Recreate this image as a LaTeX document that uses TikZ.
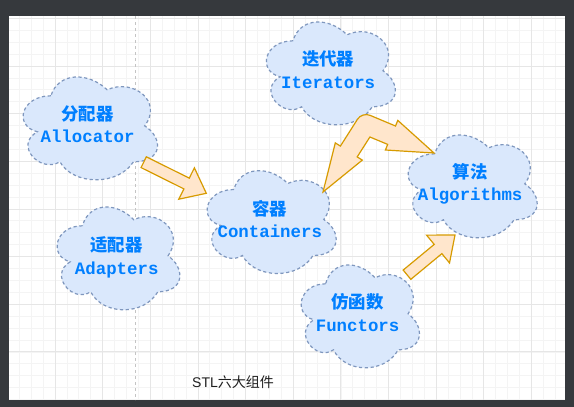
\documentclass[tikz,border=0pt]{standalone}
\usepackage{fontspec}
\setmainfont{Liberation Sans}
\newfontfamily\monob{Liberation Mono}
\newfontfamily\cjk{Noto Sans CJK SC}
\usetikzlibrary{calc}
\definecolor{framecol}{HTML}{36393D}
\definecolor{gridmaj}{HTML}{E6E6E6}
\definecolor{gridmin}{HTML}{F4F4F4}
\definecolor{pagebreak}{HTML}{C4C4C4}
\definecolor{cloudfill}{HTML}{DAE8FC}
\definecolor{cloudline}{HTML}{7F97BE}
\definecolor{txtblue}{HTML}{007FFF}
\definecolor{arrfill}{HTML}{FFE6CC}
\definecolor{arrline}{HTML}{D79B00}
\definecolor{captcol}{HTML}{1E1E1E}
\newcommand\tstrut{\rule[-4.4pt]{0pt}{18.3pt}}
\newcommand\cloudshape[4]{%
  \begin{scope}[shift={(#1,#2)}, xscale=#3, yscale=#4]
    \filldraw[cloudsty] (0.25,0.25) .. controls (0.05,0.25) and (0,0.5) .. (0.16,0.55)
      .. controls (0,0.66) and (0.18,0.9) .. (0.31,0.8)
      .. controls (0.4,1) and (0.7,1) .. (0.8,0.8)
      .. controls (1,0.8) and (1,0.6) .. (0.875,0.5)
      .. controls (1,0.3) and (0.8,0.1) .. (0.625,0.2)
      .. controls (0.5,0.05) and (0.3,0.05) .. (0.25,0.25) -- cycle;
  \end{scope}}
\newcommand\blockarrow[5]{%
  \coordinate (bT) at (#2);
  \coordinate (bB) at ($(#2)!#5!(#1)$);
  \filldraw[arrsty] ($(#1)!#3!90:(#2)$) -- ($(bB)!#3!90:(bT)$) -- ($(bB)!#4!90:(bT)$)
    -- (bT) -- ($(bB)!#4!-90:(bT)$) -- ($(bB)!#3!-90:(bT)$) -- ($(#1)!#3!-90:(#2)$) -- cycle;
}
\tikzset{
  cloudsty/.style={fill=cloudfill, draw=cloudline, line width=1.2pt, dash pattern=on 3.2pt off 2.6pt},
  arrsty/.style={fill=arrfill, draw=arrline, line width=1.2pt, line join=miter},
  cloudtxt/.style={text=txtblue, align=center, inner sep=0pt,
    font=\fontsize{17.4}{22.5}\selectfont\bfseries},
  capt/.style={text=captcol, inner sep=0pt, font=\fontsize{14}{16}\selectfont}
}
\newcommand\ctext[2]{{\cjk\bfseries #1\tstrut}\\{\monob\bfseries #2\tstrut}}
\begin{document}
\begin{tikzpicture}[x=1pt, y=-1pt]
  \useasboundingbox (0,0) rectangle (574,407);
  \fill[framecol] (0,0) rectangle (574,407);
  \fill[white] (9,16) rectangle (565,400);
  \begin{scope}
    \clip (9,16) rectangle (565,400);
    \foreach \i in {0,...,47} {
      \draw[gridmin, line width=0.8pt] ({7.35+11.9125*\i},16) -- ({7.35+11.9125*\i},400);
    }
    \foreach \i in {0,...,32} {
      \draw[gridmin, line width=0.8pt] (9,{18.35+11.9125*\i}) -- (565,{18.35+11.9125*\i});
    }
    \foreach \k in {0,...,11} {
      \draw[gridmaj, line width=0.9pt] ({7.35+47.65*\k},16) -- ({7.35+47.65*\k},400);
    }
    \foreach \k in {0,...,7} {
      \draw[gridmaj, line width=0.9pt] (9,{18.35+47.65*\k}) -- (565,{18.35+47.65*\k});
    }
    \draw[pagebreak, line width=0.9pt, dash pattern=on 3pt off 3pt] (135,16) -- (135,400);
  \end{scope}

  % clouds
  \cloudshape{13.4}{65.8}{150}{120}
  \cloudshape{257.0}{10.8}{144}{120}
  \cloudshape{398.8}{123.8}{144}{120}
  \cloudshape{197.8}{159.5}{144}{120}
  \cloudshape{48.2}{195.8}{137}{120}
  \cloudshape{292.6}{253.8}{132}{120}

  \node[cloudtxt] (alloc) at (87.6,126.3) {\ctext{分配器}{Allocator}};
  \node[cloudtxt] (iter)  at (328.2,71.8) {\ctext{迭代器}{Iterators}};
  \node[cloudtxt] (algo)  at (470.2,184.3) {\ctext{算法}{Algorithms}};
  \node[cloudtxt] (cont)  at (269.8,221.0) {\ctext{容器}{Containers}};
  \node[cloudtxt] (adapt) at (116.7,257.5) {\ctext{适配器}{Adapters}};
  \node[cloudtxt] (func)  at (357.6,314.7) {\ctext{仿函数}{Functors}};

  % arrows
  \coordinate (a1s) at ($(alloc)+(56.1,35.9)$);
  \coordinate (a1e) at ($(cont)+(-63.5,-27.7)$);
  \blockarrow{a1s}{a1e}{6pt}{17.5pt}{22pt}
  \coordinate (a2s) at ($(func)+(49.4,-40.0)$);
  \coordinate (a2e) at ($(algo)+(-15.2,50.7)$);
  \blockarrow{a2s}{a2e}{6pt}{18pt}{22pt}

  \filldraw[arrsty] (323,192) -- (335.3,142.9) -- (340.4,146.1)
    [rounded corners=8.5pt] -- (362.1,112) [sharp corners] -- (395.5,126)
    -- (397.8,120.4) -- (434,153) -- (385.4,150) -- (387.7,144.4)
    -- (369.9,137) -- (357.2,156.9) -- (362.3,160.1) -- cycle;

  \node[capt] (caption) at (233,382) {STL{\cjk 六大组件}};
\end{tikzpicture}
\end{document}
